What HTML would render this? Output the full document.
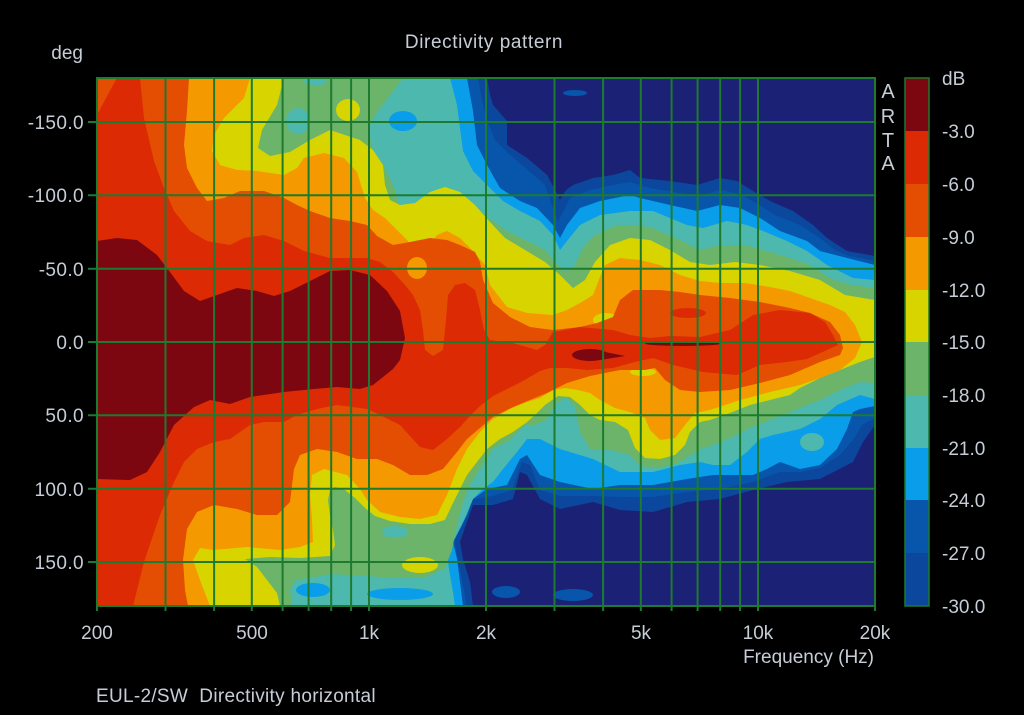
<!DOCTYPE html>
<html><head><meta charset="utf-8"><style>
html,body{margin:0;padding:0;background:#000;}
svg{display:block;}
text{font-family:"Liberation Sans",Arial,sans-serif;fill:#c6cdd6;}
</style></head><body>
<svg width="1024" height="715" viewBox="0 0 1024 715" xmlns="http://www.w3.org/2000/svg">
<defs><clipPath id="pc"><rect x="97" y="78" width="778" height="528"/></clipPath></defs>
<rect x="0" y="0" width="1024" height="715" fill="#000"/>
<g clip-path="url(#pc)">
<rect x="97" y="78" width="778" height="528" fill="#1b2275"/>
<!-- R30 -->
<path fill="#0b479c" d="M97,78 L487,78 L490,95 L493,105 L507,121 L507,145 L527,158 L547,175 L555,190 L560,200 L566,190 L573,185 L593,178 L613,175 L630,170 L640,178 L670,181 L697,185 L720,178 L737,181 L753,191 L770,201 L793,211 L813,225 L827,238 L847,251 L875,256 L875,425 L863,442 L853,462 L820,479 L787,482 L753,490 L720,499 L687,502 L653,512 L620,510 L593,502 L560,509 L540,499 L527,475 L520,472 L513,499 L493,505 L473,505 L467,522 L460,542 L463,559 L470,582 L473,606 L97,606 Z"/>
<!-- R27 -->
<path fill="#0756ab" d="M97,78 L478,78 L482,100 L486,118 L495,140 L510,155 L528,170 L545,185 L552,205 L558,222 L563,212 L570,198 L590,190 L613,185 L630,182 L650,188 L680,193 L700,196 L720,190 L740,194 L756,203 L775,215 L800,225 L820,238 L835,250 L850,256 L875,261 L875,418 L862,425 L853,440 L840,455 L820,468 L800,472 L780,472 L753,482 L720,489 L687,492 L653,497 L620,497 L593,496 L560,496 L540,490 L530,465 L522,462 L512,490 L493,496 L470,500 L462,520 L455,542 L458,562 L463,585 L467,606 L97,606 Z"/>
<ellipse cx="506" cy="592" rx="14" ry="6" fill="#0756ab"/>
<ellipse cx="573" cy="595" rx="20" ry="6" fill="#0756ab"/>
<ellipse cx="575" cy="93" rx="12" ry="3" fill="#0756ab"/>
<!-- R24 -->
<path fill="#0a9dea" d="M97,78 L467,78 L473,111 L477,145 L487,165 L500,188 L520,201 L537,208 L553,225 L560,238 L567,225 L580,208 L600,201 L630,195 L640,198 L670,205 L697,211 L720,205 L740,208 L760,218 L780,231 L807,241 L820,251 L847,258 L875,265 L875,406 L860,409 L853,412 L847,429 L837,449 L820,465 L800,469 L780,462 L767,469 L753,475 L713,475 L687,479 L653,485 L620,485 L593,489 L560,482 L540,475 L527,455 L520,459 L507,485 L487,489 L473,499 L467,515 L460,529 L453,542 L457,559 L460,582 L463,606 L97,606 Z"/>
<!-- R21 -->
<path fill="#4db8ad" d="M97,78 L450,78 L457,105 L460,128 L463,151 L473,171 L487,185 L503,201 L520,211 L540,221 L553,235 L560,250 L567,241 L580,225 L600,215 L630,211 L653,211 L687,225 L703,228 L727,221 L747,225 L763,231 L787,241 L807,251 L827,265 L853,278 L875,280 L875,399 L860,395 L837,405 L820,419 L800,429 L773,435 L760,439 L747,452 L730,465 L713,465 L700,462 L680,465 L653,472 L620,472 L593,459 L560,449 L540,439 L527,439 L517,452 L503,469 L493,482 L483,489 L473,499 L463,522 L453,542 L447,555 L450,575 L453,592 L455,606 L97,606 Z"/>
<ellipse cx="812" cy="442" rx="12" ry="9" fill="#4db8ad"/>
<ellipse cx="403" cy="121" rx="14" ry="10" fill="#0a9dea"/>
<ellipse cx="313" cy="590" rx="17" ry="7" fill="#0a9dea"/>
<ellipse cx="400" cy="594" rx="33" ry="6" fill="#0a9dea"/>
<!-- R18 -->
<path fill="#6bb46a" d="M97,78 L403,78 L390,95 L377,112 L368,128 L373,150 L385,168 L395,190 L400,210 L410,215 L425,205 L440,192 L455,190 L470,200 L485,215 L505,230 L525,240 L545,250 L555,262 L565,272 L575,265 L583,248 L595,235 L615,226 L630,225 L650,227 L680,240 L700,250 L720,245 L745,245 L770,252 L790,258 L810,265 L830,278 L850,285 L875,288 L875,383 L860,382 L840,390 L820,400 L800,408 L790,412 L770,420 L750,428 L730,438 L710,446 L700,449 L680,462 L660,468 L640,466 L630,455 L610,450 L590,449 L580,432 L575,407 L566,397 L556,404 L546,420 L535,425 L525,425 L510,440 L493,449 L480,469 L470,485 L463,502 L457,525 L452,550 L445,568 L427,577 L393,578 L367,576 L330,574 L310,578 L295,580 L290,590 L292,606 L97,606 Z"/>
<ellipse cx="298" cy="121" rx="12" ry="13" fill="#4db8ad"/>
<ellipse cx="315" cy="79" rx="12" ry="7" fill="#4db8ad"/>
<ellipse cx="395" cy="532" rx="13" ry="6" fill="#4db8ad"/>
<!-- R15 -->
<path fill="#d7d400" d="M97,78 L284,78 L277,105 L262,130 L258,148 L270,156 L290,152 L310,140 L330,130 L345,135 L360,140 L373,150 L383,165 L385,185 L390,200 L400,205 L415,203 L430,192 L445,187 L460,192 L475,205 L490,222 L505,238 L525,250 L545,262 L560,275 L573,288 L585,280 L595,262 L610,245 L630,238 L650,240 L670,250 L690,262 L710,265 L735,262 L760,265 L790,271 L820,280 L845,295 L875,300 L875,357 L860,362 L840,370 L820,378 L800,388 L790,395 L770,400 L750,405 L730,413 L710,420 L700,422 L690,432 L685,445 L675,455 L660,459 L645,458 L635,448 L628,430 L615,422 L600,420 L590,415 L580,405 L570,397 L558,396 L545,405 L535,415 L527,422 L513,432 L500,439 L487,449 L477,462 L467,475 L460,489 L452,505 L445,520 L430,524 L410,524 L390,521 L375,516 L365,508 L355,498 L345,490 L335,487 L330,490 L328,500 L330,515 L333,530 L335,545 L330,556 L300,558 L270,557 L245,559 L257,567 L267,580 L277,593 L280,606 L97,606 Z"/>
<ellipse cx="348" cy="110" rx="12" ry="11" fill="#d7d400"/>
<ellipse cx="420" cy="565" rx="18" ry="8" fill="#d7d400"/>
<!-- R12 -->
<path fill="#f59900" d="M97,78 L250,78 L244,98 L224,118 L214,135 L212,151 L220,165 L237,170 L257,171 L284,175 L297,168 L304,158 L324,153 L344,158 L357,172 L365,198 L373,210 L385,218 L393,226 L407,240 L417,251 L427,248 L437,235 L447,231 L460,238 L473,251 L485,265 L490,285 L507,307 L527,313 L553,315 L567,310 L580,303 L593,295 L600,277 L605,265 L620,258 L640,260 L660,265 L680,275 L700,281 L720,283 L745,283 L770,287 L790,291 L810,298 L830,305 L845,312 L855,325 L862,342 L855,358 L840,370 L820,378 L800,385 L770,392 L740,400 L710,410 L695,413 L685,425 L675,438 L660,440 L650,430 L645,418 L630,412 L615,408 L600,400 L590,393 L578,390 L565,388 L553,390 L540,398 L527,402 L510,409 L493,419 L480,432 L467,449 L457,469 L447,495 L437,515 L420,519 L400,517 L380,512 L367,500 L360,489 L347,475 L324,469 L312,475 L310,495 L312,520 L313,542 L300,547 L280,550 L247,547 L213,550 L200,548 L193,560 L200,580 L210,606 L97,606 Z"/>
<ellipse cx="606" cy="320" rx="13" ry="7" fill="#d7d400"/>
<ellipse cx="643" cy="372" rx="13" ry="4" fill="#d7d400"/>
<!-- R9 -->
<path fill="#e44e03" d="M97,78 L189,78 L187,111 L184,145 L187,168 L197,188 L207,201 L224,198 L240,191 L264,191 L284,198 L297,205 L310,211 L330,218 L350,221 L367,225 L377,236 L393,245 L410,242 L430,238 L447,240 L460,245 L475,252 L480,262 L483,280 L493,303 L510,317 L530,327 L553,330 L580,327 L597,323 L613,317 L620,300 L633,290 L660,290 L680,292 L700,295 L730,298 L760,302 L790,308 L810,313 L830,322 L840,335 L843,348 L840,355 L820,362 L790,375 L760,383 L730,390 L700,392 L680,390 L665,380 L655,368 L645,370 L620,370 L590,376 L567,383 L547,393 L530,400 L513,407 L493,417 L480,428 L467,439 L457,452 L443,469 L427,475 L410,475 L393,465 L377,459 L357,459 L337,452 L317,449 L300,455 L294,469 L290,502 L277,515 L257,515 L237,509 L214,505 L197,512 L187,529 L183,560 L185,590 L188,606 L97,606 Z"/>
<ellipse cx="417" cy="268" rx="10" ry="11" fill="#f59900"/>
<!-- R6 -->
<path fill="#dc2a04" d="M97,115 L105,100 L113,85 L117,78 L140,78 L144,118 L154,161 L164,188 L174,211 L190,231 L207,241 L230,245 L244,238 L264,235 L284,241 L304,251 L330,258 L367,258 L380,262 L393,272 L405,285 L413,295 L420,310 L423,330 L425,350 L433,356 L443,350 L446,320 L448,295 L455,285 L465,283 L475,290 L480,310 L484,330 L490,340 L513,343 L537,350 L545,345 L553,332 L580,327 L613,330 L630,335 L650,338 L670,336 L700,337 L730,330 L753,315 L780,310 L810,313 L825,322 L833,335 L838,345 L827,350 L807,359 L787,362 L760,365 L737,375 L703,372 L673,365 L653,358 L635,362 L613,368 L587,370 L567,368 L550,368 L540,371 L523,381 L507,389 L493,396 L480,406 L470,416 L460,427 L447,439 L433,450 L420,447 L400,425 L380,415 L367,409 L337,405 L317,409 L297,415 L284,422 L264,422 L250,425 L230,439 L214,442 L197,449 L184,462 L174,482 L160,515 L144,562 L133,606 L97,606 Z"/>
<ellipse cx="688" cy="313" rx="18" ry="5" fill="#dc2a04"/>
<!-- R3 -->
<path fill="#7d0710" d="M97,241 L117,238 L137,240 L157,255 L167,268 L184,291 L200,301 L217,295 L237,288 L257,291 L274,296 L290,291 L310,281 L330,271 L350,270 L370,275 L387,291 L400,311 L405,338 L400,360 L393,369 L373,385 L360,389 L337,387 L314,389 L284,392 L250,397 L230,404 L210,400 L194,407 L174,425 L160,452 L147,472 L130,480 L97,479 Z"/>
<ellipse cx="590" cy="355" rx="18" ry="6" fill="#7d0710"/>
<path fill="#7d0710" d="M600,351 L625,356 L600,360 Z"/>
<ellipse cx="683" cy="343.5" rx="38" ry="2.5" fill="#7d0710"/>
</g>
<!-- grid -->
<g stroke="#1d7a2e" stroke-width="2" fill="none">
<path d="M165.5,78V611 M214.1,78V611 M251.8,78V611 M282.6,78V611 M308.6,78V611 M331.2,78V611 M351.1,78V611 M369,78V611 M486,78V611 M554.5,78V611 M603.1,78V611 M640.8,78V611 M671.6,78V611 M697.6,78V611 M720.2,78V611 M740.1,78V611 M758,78V611 M97,606V611 M875,606V611"/>
<path d="M88,122H875 M88,195.3H875 M88,268.7H875 M88,342H875 M88,415.3H875 M88,488.7H875 M88,562H875"/>
<rect x="97" y="78" width="778" height="528"/>
</g>
<!-- colorbar -->
<rect x="905" y="78" width="24" height="53" fill="#7d0710"/>
<rect x="905" y="131" width="24" height="53" fill="#dc2a04"/>
<rect x="905" y="184" width="24" height="53" fill="#e44e03"/>
<rect x="905" y="237" width="24" height="53" fill="#f59900"/>
<rect x="905" y="290" width="24" height="52" fill="#d7d400"/>
<rect x="905" y="342" width="24" height="53" fill="#6bb46a"/>
<rect x="905" y="395" width="24" height="53" fill="#4db8ad"/>
<rect x="905" y="448" width="24" height="52" fill="#0a9dea"/>
<rect x="905" y="500" width="24" height="53" fill="#0756ab"/>
<rect x="905" y="553" width="24" height="53" fill="#0b479c"/>
<rect x="905" y="78" width="24" height="528" fill="none" stroke="#1d7a2e" stroke-width="1.5"/>
<!-- text -->
<text x="484" y="48" font-size="19" text-anchor="middle" letter-spacing="0.6">Directivity pattern</text>
<text x="83" y="59" font-size="19" text-anchor="end">deg</text>
<g font-size="19" text-anchor="end" letter-spacing="0.4">
<text x="84" y="129">-150.0</text>
<text x="84" y="202">-100.0</text>
<text x="84" y="276">-50.0</text>
<text x="84" y="349">0.0</text>
<text x="84" y="422">50.0</text>
<text x="84" y="496">100.0</text>
<text x="84" y="569">150.0</text>
</g>
<g font-size="19" text-anchor="middle">
<text x="97" y="639">200</text>
<text x="252" y="639">500</text>
<text x="369" y="639">1k</text>
<text x="486" y="639">2k</text>
<text x="641" y="639">5k</text>
<text x="758" y="639">10k</text>
<text x="875" y="639">20k</text>
</g>
<text x="874" y="663" font-size="19" text-anchor="end">Frequency (Hz)</text>
<text x="96" y="702" font-size="19" letter-spacing="0.3">EUL-2/SW&#160; Directivity horizontal</text>
<g font-size="20" text-anchor="middle">
<text x="888" y="98">A</text>
<text x="888" y="123">R</text>
<text x="888" y="147">T</text>
<text x="888" y="170">A</text>
</g>
<g font-size="19">
<text x="942" y="85">dB</text>
<text x="942" y="138">-3.0</text>
<text x="942" y="191">-6.0</text>
<text x="942" y="244">-9.0</text>
<text x="942" y="297">-12.0</text>
<text x="942" y="349">-15.0</text>
<text x="942" y="402">-18.0</text>
<text x="942" y="455">-21.0</text>
<text x="942" y="507">-24.0</text>
<text x="942" y="560">-27.0</text>
<text x="942" y="613">-30.0</text>
</g>
</svg>
</body></html>
